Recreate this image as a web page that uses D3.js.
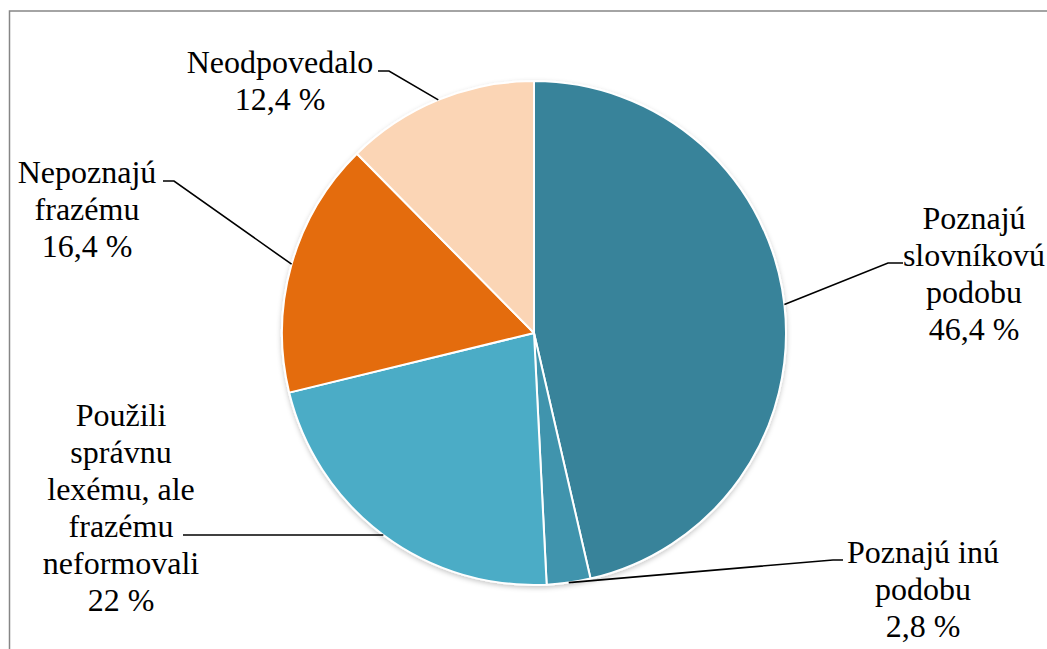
<!DOCTYPE html>
<html>
<head>
<meta charset="utf-8">
<script src="https://cdn.jsdelivr.net/npm/d3@7"></script>
<style>
  html, body { margin: 0; padding: 0; background: #fff; }
  svg { display: block; }
</style>
</head>
<body>
<svg id="chart" width="1047" height="649"></svg>
<script>
// Answer categories (label lines) and their shares in percent
const categories = [
  ["Poznajú", "slovníkovú", "podobu"],
  ["Poznajú inú", "podobu"],
  ["Použili", "správnu", "lexému, ale", "frazému", "neformovali"],
  ["Nepoznajú", "frazému"],
  ["Neodpovedalo"]
];
const values = [46.4, 2.8, 22, 16.4, 12.4];
const valueLabels = ["46,4 %", "2,8 %", "22 %", "16,4 %", "12,4 %"];
const colors = ["#37839A", "#3F94AD", "#4BACC6", "#E46C0A", "#FBD5B5"];

// Label block placement: text centre x, first baseline y, and the
// elbow of the leader line (where it meets the text)
const labelLayout = [
  { x: 974, y: 229, elbow: [[888, 263], [903, 263]] },
  { x: 923, y: 563, elbow: [[833, 560], [843, 560]] },
  { x: 121, y: 426, elbow: [[183, 535], [183, 535]] },
  { x: 87,  y: 183, elbow: [[174, 181], [163, 181]] },
  { x: 280, y: 73,  elbow: [[389, 71], [378, 71]] }
];

const svg = d3.select("#chart");
const cx = 534, cy = 333, r = 252, lineH = 37;

// Chart frame
svg.append("rect")
  .attr("x", 9.5).attr("y", 11).attr("width", 1100).attr("height", 700)
  .attr("fill", "none").attr("stroke", "#868686").attr("stroke-width", 1.5);

const defs = svg.append("defs");
const f = defs.append("filter").attr("id", "soft").attr("x", "-10%").attr("y", "-10%")
  .attr("width", "120%").attr("height", "120%");
f.append("feDropShadow").attr("dx", 0).attr("dy", 2).attr("stdDeviation", 2.5)
  .attr("flood-color", "#000").attr("flood-opacity", 0.22);

const pie = d3.pie().value(d => d).sort(null);
const arcs = pie(values);
const arc = d3.arc().innerRadius(0).outerRadius(r);

const g = svg.append("g").attr("transform", `translate(${cx},${cy})`);
g.append("g").attr("filter", "url(#soft)")
  .selectAll("path").data(arcs).join("path")
  .attr("d", arc)
  .attr("fill", (d, i) => colors[i])
  .attr("stroke", "#fff").attr("stroke-width", 2).attr("stroke-linejoin", "round");

// Leader lines from the slice's mid-angle on the rim to the label
const rimPoint = d => {
  const a = (d.startAngle + d.endAngle) / 2;
  return [cx + r * Math.sin(a), cy - r * Math.cos(a)];
};
const line = d3.line();
svg.append("g").selectAll("path").data(arcs).join("path")
  .attr("d", (d, i) => line([rimPoint(d), ...labelLayout[i].elbow]))
  .attr("fill", "none").attr("stroke", "#000").attr("stroke-width", 1.6);

// Labels: one text element per line (category lines, then the value)
const labelLines = [];
arcs.forEach((d, i) => {
  categories[i].concat([valueLabels[i]]).forEach((t, j) => {
    labelLines.push({ text: t, x: labelLayout[i].x, y: labelLayout[i].y + j * lineH });
  });
});
svg.append("g").selectAll("text").data(labelLines).join("text")
  .attr("x", d => d.x).attr("y", d => d.y)
  .attr("text-anchor", "middle")
  .attr("font-size", 32)
  .style("font-family", "'Liberation Serif'")
  .attr("fill", "#000")
  .text(d => d.text);
</script>
</body>
</html>
